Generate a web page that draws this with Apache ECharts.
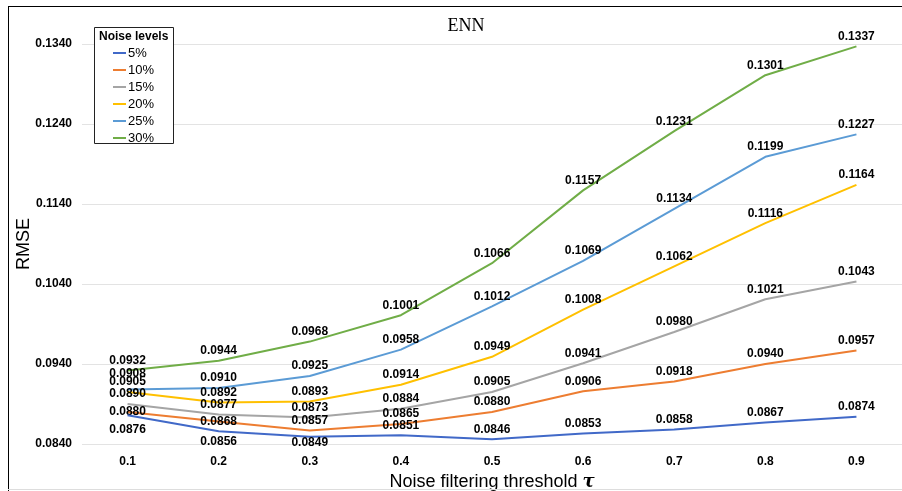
<!DOCTYPE html>
<html>
<head>
<meta charset="utf-8">
<script src="https://cdn.jsdelivr.net/npm/echarts@6/dist/echarts.min.js"></script>
<style>
html,body{margin:0;padding:0;background:#fff;}
#chart{width:902px;height:491px;}
</style>
</head>
<body>
<div id="chart"></div>
<script>
const categories = ['0.1','0.2','0.3','0.4','0.5','0.6','0.7','0.8','0.9'];
const seriesNames = ['5%','10%','15%','20%','25%','30%'];
const rmse5  = [0.0876, 0.0856, 0.0849, 0.0851, 0.0846, 0.0853, 0.0858, 0.0867, 0.0874];
const rmse10 = [0.0880, 0.0868, 0.0857, 0.0865, 0.0880, 0.0906, 0.0918, 0.0940, 0.0957];
const rmse15 = [0.0890, 0.0877, 0.0873, 0.0884, 0.0905, 0.0941, 0.0980, 0.1021, 0.1043];
const rmse20 = [0.0905, 0.0892, 0.0893, 0.0914, 0.0949, 0.1008, 0.1062, 0.1116, 0.1164];
const rmse25 = [0.0908, 0.0910, 0.0925, 0.0958, 0.1012, 0.1069, 0.1134, 0.1199, 0.1227];
const rmse30 = [0.0932, 0.0944, 0.0968, 0.1001, 0.1066, 0.1157, 0.1231, 0.1301, 0.1337];
const yTicks = { min: 0.0840, max: 0.1340, step: 0.0100 };

const allValues = [rmse5, rmse10, rmse15, rmse20, rmse25, rmse30];
const colors = ['#4169C8', '#ED7D31', '#A5A5A5', '#FFC000', '#5B9BD5', '#70AD47'];
// label placement tweaks (style only)
const labelTweaks = {
  0: {0: {position: 'bottom', distance: 8}, 1: {position: 'bottom', distance: 4}, 2: {position: 'bottom', distance: 0}},
  1: {0: {position: 'inside'}, 1: {position: 'inside'}},
  4: {0: {position: 'top', distance: 10}}
};

const labelFont = {fontFamily: 'Liberation Sans, Arial, sans-serif', fontWeight: 'bold', fontSize: 12, color: '#000'};

const series = seriesNames.map((name, si) => ({
  name: name,
  type: 'line',
  symbol: 'circle',
  symbolSize: 0,
  showSymbol: true,
  color: colors[si],
  lineStyle: {width: 2, color: colors[si]},
  label: Object.assign({show: true, position: 'top', distance: 4,
    formatter: p => Number(p.value).toFixed(4)}, labelFont),
  z: 10 - si,
  data: allValues[si].map((v, i) => {
    const t = labelTweaks[si] && labelTweaks[si][i];
    return t ? {value: v, label: t} : v;
  })
}));

const chart = echarts.init(document.getElementById('chart'), null, {renderer: 'canvas'});
chart.setOption({
  animation: false,
  backgroundColor: '#fff',
  title: {
    text: 'ENN', left: 461, top: 12, textAlign: 'center',
    textStyle: {fontFamily: 'Liberation Serif, Times New Roman, serif', fontSize: 18, fontWeight: 'normal', color: '#000'}
  },
  grid: {left: 82, right: 0, top: 44, bottom: 47, containLabel: false, outerBoundsMode: 'none'},
  xAxis: {
    type: 'category', data: categories, boundaryGap: true,
    axisLine: {show: false}, axisTick: {show: false},
    axisLabel: Object.assign({margin: 12}, labelFont),
    name: 'Noise filtering threshold {t|\u03c4}', nameLocation: 'middle', nameGap: 28,
    nameTextStyle: {fontFamily: 'Liberation Sans, Arial, sans-serif', fontSize: 18, color: '#000',
      rich: {t: {fontFamily: 'DejaVu Serif, Liberation Serif, serif', fontStyle: 'italic', fontWeight: 'bold', fontSize: 18, color: '#000'}}}
  },
  yAxis: {
    type: 'value', min: yTicks.min, max: yTicks.max, interval: yTicks.step,
    axisLine: {show: false}, axisTick: {show: false},
    splitLine: {lineStyle: {color: '#e3e3e3', width: 1}},
    axisLabel: Object.assign({margin: 10, formatter: v => v.toFixed(4)}, labelFont),
    name: 'RMSE', nameLocation: 'middle', nameGap: 49, nameMoveOverlap: false,
    nameTextStyle: {fontFamily: 'Liberation Sans, Arial, sans-serif', fontSize: 18, color: '#000'}
  },
  legend: {
    orient: 'vertical', left: 113, top: 46, padding: 0,
    icon: 'rect', itemWidth: 13, itemHeight: 2, itemGap: 3,
    data: seriesNames,
    textStyle: {fontFamily: 'Liberation Sans, Arial, sans-serif', fontSize: 13, color: '#000', lineHeight: 14, padding: [0,0,0,-3]}
  },
  graphic: [
    {type: 'line', shape: {x1: 8.5, y1: 6, x2: 8.5, y2: 491}, style: {stroke: '#000', lineWidth: 1}, z: 100},
    {type: 'line', shape: {x1: 8, y1: 6.5, x2: 902, y2: 6.5}, style: {stroke: '#000', lineWidth: 1}, z: 100},
    {type: 'line', shape: {x1: 8, y1: 489.5, x2: 902, y2: 489.5}, style: {stroke: '#ddd', lineWidth: 1}, z: 100},
    {type: 'rect', shape: {x: 94.5, y: 27.5, width: 79, height: 116}, style: {fill: '#fff', stroke: '#222', lineWidth: 1}, z: 1, zlevel: 0},
    {type: 'text', left: 99, top: 31, style: {text: 'Noise levels', fill: '#000', font: 'bold 12px Liberation Sans, Arial, sans-serif'}, z: 2}
  ],
  series: series
});
</script>
</body>
</html>
